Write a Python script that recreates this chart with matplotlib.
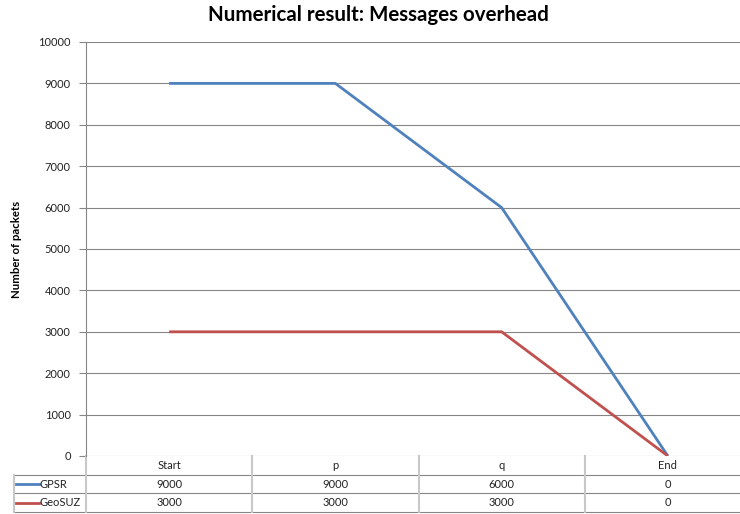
import matplotlib.pyplot as plt
import matplotlib.transforms as mtransforms

# chart data
categories = ['Start', 'p', 'q', 'End']
series_names = ['GPSR', 'GeoSUZ']
gpsr = [9000, 9000, 6000, 0]
geosuz = [3000, 3000, 3000, 0]
colors = ['#4F81BD', '#C0504D']
yticks = list(range(0, 10001, 1000))

plt.rcParams['font.family'] = ['Lato', 'DejaVu Sans']

W, H = 740, 514
fig = plt.figure(figsize=(W / 100, H / 100), dpi=100)
# plot area in pixels: left 86, right 751 (cut off by image), top 42, bottom 456
ax = fig.add_axes([86 / W, 1 - 456 / H, (751 - 86) / W, (456 - 42) / H])

x = list(range(len(categories)))
for vals, col in zip([gpsr, geosuz], colors):
    ax.plot(x, vals, color=col, linewidth=2.0, solid_capstyle='butt', zorder=3)

ax.set_xlim(-0.5, len(categories) - 0.5)
ax.set_ylim(0, 10000)
ax.set_yticks(yticks)
ax.set_yticklabels([str(v) for v in yticks], fontsize=8, color='#222222')
ax.set_xticks([])
ax.grid(axis='y', color='#868686', linewidth=0.8)
ax.set_axisbelow(True)
for s in ['top', 'right', 'bottom']:
    ax.spines[s].set_visible(False)
ax.spines['left'].set_color('#868686')
ax.spines['left'].set_linewidth(0.8)
ax.tick_params(axis='y', length=5, width=0.8, color='#868686', pad=6)

ax.set_ylabel('Number of packets', fontsize=8.2, fontweight='bold', labelpad=12)
fig.text(378 / W, 1 - 15 / H, 'Numerical result: Messages overhead',
         ha='center', va='center', fontsize=14.8, fontweight='bold')

# data table under the axis
axh = 456 - 42
row_h = 18.7 / axh
trans = mtransforms.blended_transform_factory(ax.transData, ax.transAxes)
ax_left = -0.5
legend_left = ax_left - (86 - 14) / (751 - 86) * len(categories)
tsize = 8

# header row text
for i, c in enumerate(categories):
    ax.text(i, -row_h / 2, c, transform=trans, ha='center', va='center',
            fontsize=tsize, color='#222222', clip_on=False)

rows = [gpsr, geosuz]
for r, (name, vals, col) in enumerate(zip(series_names, rows, colors)):
    yc = -row_h * (r + 1.5)
    for i, v in enumerate(vals):
        ax.text(i, yc, str(v), transform=trans, ha='center', va='center',
                fontsize=tsize, color='#222222', clip_on=False)
    sample_x0 = legend_left + 0.01
    sample_x1 = legend_left + 0.15
    ax.plot([sample_x0, sample_x1], [yc, yc], transform=trans, color=col,
            linewidth=2.0, clip_on=False)
    ax.text(sample_x1 + 0.005, yc, name, transform=trans, ha='left', va='center',
            fontsize=tsize, color='#222222', clip_on=False)

# horizontal table lines
for k in range(1, 4):
    y = -row_h * k
    ax.plot([legend_left, len(categories) - 0.5], [y, y], transform=trans,
            color='#868686', linewidth=0.8, clip_on=False)
# vertical table lines
for xv in [i + 0.5 for i in range(len(categories))]:
    ax.plot([xv, xv], [0, -row_h * 3], transform=trans, color='#C8C8C8',
            linewidth=1.5, clip_on=False)
ax.plot([ax_left, ax_left], [0, -row_h * 3], transform=trans, color='#C8C8C8',
        linewidth=1.5, clip_on=False)
ax.plot([legend_left, legend_left], [-row_h, -row_h * 3], transform=trans,
        color='#C8C8C8', linewidth=1.5, clip_on=False)

fig.savefig('out.png', dpi=100)
